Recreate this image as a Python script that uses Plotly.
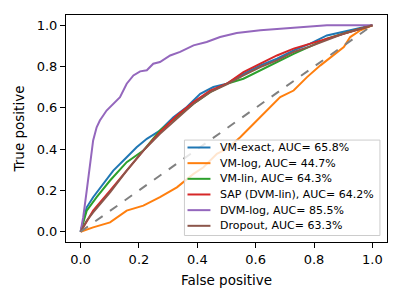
import plotly.graph_objects as go

# ROC curves (false positive rate, true positive rate)
vm_exact_fpr = [0, 0.021, 0.043, 0.078, 0.112, 0.158, 0.192, 0.227, 0.272, 0.318, 0.364, 0.410, 0.455, 0.501, 0.558, 0.616, 0.673, 0.730, 0.787, 0.844, 0.902, 1.0]
vm_exact_tpr = [0, 0.118, 0.167, 0.231, 0.296, 0.361, 0.409, 0.450, 0.490, 0.555, 0.604, 0.668, 0.701, 0.717, 0.765, 0.806, 0.838, 0.879, 0.911, 0.951, 0.968, 1.0]

vm_log_fpr = [0, 0.043, 0.101, 0.158, 0.215, 0.272, 0.330, 0.387, 0.421, 0.467, 0.501, 0.547, 0.593, 0.638, 0.684, 0.730, 0.776, 0.822, 0.867, 0.902, 0.924, 0.959, 1.0]
vm_log_tpr = [0, 0.021, 0.045, 0.102, 0.126, 0.167, 0.215, 0.280, 0.312, 0.377, 0.401, 0.458, 0.523, 0.587, 0.652, 0.684, 0.749, 0.806, 0.854, 0.895, 0.943, 0.976, 1.0]

vm_lin_fpr = [0, 0.021, 0.055, 0.101, 0.158, 0.215, 0.272, 0.330, 0.387, 0.444, 0.501, 0.558, 0.616, 0.673, 0.730, 0.787, 0.844, 0.902, 1.0]
vm_lin_tpr = [0, 0.102, 0.167, 0.248, 0.337, 0.393, 0.490, 0.555, 0.620, 0.676, 0.717, 0.741, 0.782, 0.822, 0.862, 0.898, 0.935, 0.960, 1.0]

sap_fpr = [0, 0.021, 0.043, 0.101, 0.158, 0.215, 0.272, 0.330, 0.387, 0.444, 0.501, 0.558, 0.616, 0.673, 0.730, 0.787, 0.844, 0.902, 1.0]
sap_tpr = [0, 0.053, 0.102, 0.199, 0.296, 0.393, 0.482, 0.563, 0.628, 0.684, 0.717, 0.773, 0.814, 0.854, 0.887, 0.911, 0.935, 0.960, 1.0]

dvm_log_fpr = [0, 0.009, 0.021, 0.032, 0.043, 0.055, 0.066, 0.089, 0.112, 0.135, 0.158, 0.181, 0.204, 0.227, 0.249, 0.272, 0.307, 0.341, 0.387, 0.432, 0.478, 0.535, 0.616, 0.730, 0.844, 1.0]
dvm_log_tpr = [0, 0.070, 0.199, 0.328, 0.442, 0.506, 0.539, 0.587, 0.620, 0.652, 0.717, 0.757, 0.777, 0.782, 0.814, 0.822, 0.854, 0.871, 0.903, 0.919, 0.943, 0.963, 0.976, 0.989, 1.0, 1.0]

dropout_fpr = [0, 0.021, 0.043, 0.101, 0.158, 0.215, 0.272, 0.330, 0.387, 0.444, 0.501, 0.558, 0.616, 0.673, 0.730, 0.787, 0.844, 0.902, 1.0]
dropout_tpr = [0, 0.053, 0.094, 0.191, 0.296, 0.393, 0.474, 0.547, 0.620, 0.676, 0.714, 0.757, 0.798, 0.830, 0.871, 0.898, 0.927, 0.960, 1.0]

chance_x = [0, 1]
chance_y = [0, 1]

series_names = ["VM-exact, AUC= 65.8%", "VM-log, AUC= 44.7%", "VM-lin, AUC= 64.3%",
                "SAP (DVM-lin), AUC= 64.2%", "DVM-log, AUC= 85.5%", "Dropout, AUC= 63.3%"]
series_x = [vm_exact_fpr, vm_log_fpr, vm_lin_fpr, sap_fpr, dvm_log_fpr, dropout_fpr]
series_y = [vm_exact_tpr, vm_log_tpr, vm_lin_tpr, sap_tpr, dvm_log_tpr, dropout_tpr]
series_colors = ["#1f77b4", "#ff7f0e", "#2ca02c", "#d62728", "#9467bd", "#8c564b"]

tick_vals = [0.0, 0.2, 0.4, 0.6, 0.8, 1.0]
tick_text = ["0.0", "0.2", "0.4", "0.6", "0.8", "1.0"]

fig = go.Figure()
for name, x, y, c in zip(series_names, series_x, series_y, series_colors):
    fig.add_trace(go.Scatter(x=x, y=y, mode="lines", name=name, showlegend=False,
                             line=dict(color=c, width=2)))
fig.add_trace(go.Scatter(x=chance_x, y=chance_y, mode="lines", showlegend=False,
                         line=dict(color="gray", width=2, dash="dash")))

# Legend drawn as a matplotlib-style box (paper coordinates)
box_x0, box_x1, box_y0, box_y1 = 0.369, 0.978, 0.0286, 0.449
handle_x0, handle_x1, text_x = 0.3785, 0.450, 0.472
row_top, row_step = 0.4163, 0.0690
shapes = [dict(type="rect", xref="paper", yref="paper", x0=box_x0, x1=box_x1,
               y0=box_y0, y1=box_y1, fillcolor="rgba(255,255,255,0.8)",
               line=dict(color="#cccccc", width=1), layer="above")]
annotations = []
for i, (name, c) in enumerate(zip(series_names, series_colors)):
    yy = row_top - i * row_step
    shapes.append(dict(type="line", xref="paper", yref="paper", x0=handle_x0, x1=handle_x1,
                       y0=yy, y1=yy, line=dict(color=c, width=2), layer="above"))
    annotations.append(dict(xref="paper", yref="paper", x=text_x, y=yy, text=name,
                            xanchor="left", yanchor="middle", showarrow=False,
                            font=dict(size=11, color="black")))

axis_common = dict(range=[-0.05, 1.05], tickvals=tick_vals, ticktext=tick_text,
                   showgrid=False, zeroline=False, showline=True, mirror=True,
                   linecolor="black", linewidth=1, ticks="outside", ticklen=5,
                   tickwidth=1, tickcolor="black", automargin=False,
                   tickfont=dict(size=13, color="black"))

fig.update_layout(
    width=400, height=300,
    margin=dict(l=58, r=21, t=7, b=66),
    paper_bgcolor="white", plot_bgcolor="white",
    font=dict(family="DejaVu Sans", color="black"),
    showlegend=False,
    xaxis=dict(**axis_common, title=dict(text="False positive", font=dict(size=13.5), standoff=9)),
    yaxis=dict(**axis_common, title=dict(text="True positive", font=dict(size=13.5), standoff=8)),
    shapes=shapes,
    annotations=annotations,
)

fig.write_html("out.html")
